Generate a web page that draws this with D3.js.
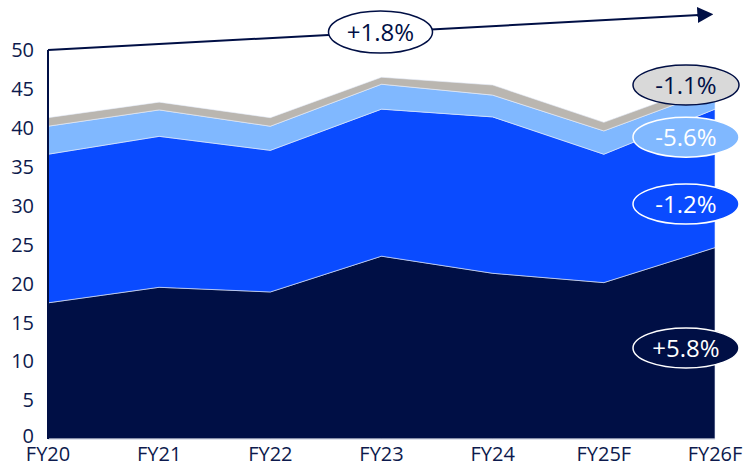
<!DOCTYPE html>
<meta charset="utf-8">
<style>
  body { margin: 0; background: #fff; }
  text { font-family: "Open Sans", sans-serif; }
</style>
<svg width="743" height="467"></svg>
<script src="https://cdn.jsdelivr.net/npm/d3@7"></script>
<script>

var years = ["FY20", "FY21", "FY22", "FY23", "FY24", "FY25F", "FY26F"];
var baseLayer  = [17.5, 19.5, 18.9, 23.5, 21.3, 20.1, 24.6];
var midLayer   = [19.1, 19.4, 18.2, 18.9, 20.1, 16.5, 17.8];
var lightLayer = [3.6, 3.4, 3.1, 3.2, 2.8, 3.0, 2.5];
var greyLayer  = [1.1, 1.0, 1.1, 0.9, 1.3, 1.1, 1.0];
var yTicks = [0, 5, 10, 15, 20, 25, 30, 35, 40, 45, 50];

var keys = ["base", "mid", "light", "grey"];
var colors = { base: "#000f45", mid: "#0a4bff", light: "#80b8ff", grey: "#bab6b0" };

// growth labels: text, value height for placement, fill, stroke, text colour
var labels = [
  { text: "-1.1%", v: 45.5, fill: "#d9d9d9", stroke: "#000f45", color: "#000f45" },
  { text: "-5.6%", v: 38.8, fill: "#80b8ff", stroke: "#fff", color: "#fff" },
  { text: "-1.2%", v: 30.2, fill: "#0a4bff", stroke: "#fff", color: "#fff" },
  { text: "+5.8%", v: 11.7, fill: "#000f45", stroke: "#fff", color: "#fff" }
];
var totalLabel = "+1.8%";

var rows = years.map(function(y, i) {
  return { year: y, base: baseLayer[i], mid: midLayer[i], light: lightLayer[i], grey: greyLayer[i] };
});

var svg = d3.select("svg"),
    margin = {top: 50, right: 28, bottom: 28, left: 48},
    width = +svg.attr("width") - margin.left - margin.right,
    height = +svg.attr("height") - margin.top - margin.bottom,
    g = svg.append("g").attr("transform", "translate(" + margin.left + "," + margin.top + ")");

var x = d3.scalePoint().domain(years).range([0, width]);
var y = d3.scaleLinear().domain([0, 50]).range([height, 0]);

var stack = d3.stack().keys(keys);
var series = stack(rows);

var area = d3.area()
    .x(function(d) { return x(d.data.year); })
    .y0(function(d) { return y(d[0]); })
    .y1(function(d) { return y(d[1]); });

g.selectAll(".layer")
  .data(series)
  .enter().append("path")
    .attr("class", "layer")
    .attr("fill", function(d) { return colors[d.key]; })
    .attr("stroke", "#e8eefc")
    .attr("stroke-width", 0.6)
    .attr("d", area);

// axes
g.append("line")
    .attr("x1", 0).attr("x2", width)
    .attr("y1", height).attr("y2", height)
    .attr("stroke", "#c8ccd8").attr("stroke-width", 1);

g.append("line")
    .attr("x1", 0).attr("x2", 0)
    .attr("y1", height).attr("y2", y(50))
    .attr("stroke", "#000f45").attr("stroke-width", 2);

g.selectAll(".ytick")
  .data(yTicks)
  .enter().append("text")
    .attr("x", -14)
    .attr("y", function(d) { return y(d); })
    .attr("dy", function(d) { return d === 0 ? "0.2em" : "0.36em"; })
    .attr("text-anchor", "end")
    .attr("font-size", 20)
    .attr("fill", "#0d1a4d")
    .text(function(d) { return d; });

g.selectAll(".xtick")
  .data(years)
  .enter().append("text")
    .attr("x", function(d) { return x(d); })
    .attr("y", height + 22)
    .attr("text-anchor", "middle")
    .attr("font-size", 20)
    .attr("fill", "#0d1a4d")
    .text(function(d) { return d; });

// overall trend arrow
var defs = svg.append("defs");
defs.append("marker")
    .attr("id", "head")
    .attr("viewBox", "0 0 10 10")
    .attr("refX", 1).attr("refY", 5)
    .attr("markerWidth", 8).attr("markerHeight", 8)
    .attr("markerUnits", "strokeWidth")
    .attr("orient", "auto")
  .append("path")
    .attr("d", "M0,0L10,5L0,10Z")
    .attr("fill", "#000f45");

var ax0 = 0, ay0 = y(50), ax1 = width - 16, ay1 = y(54.5);
g.append("line")
    .attr("x1", ax0).attr("y1", ay0)
    .attr("x2", ax1).attr("y2", ay1)
    .attr("stroke", "#000f45").attr("stroke-width", 2)
    .attr("marker-end", "url(#head)");

var cx = x("FY23") - 1;
var cy = ay0 + (ay1 - ay0) * cx / ax1;
g.append("ellipse")
    .attr("cx", cx).attr("cy", cy)
    .attr("rx", 52).attr("ry", 21)
    .attr("fill", "#fff").attr("stroke", "#000f45").attr("stroke-width", 1.5);
g.append("text")
    .attr("x", cx).attr("y", cy)
    .attr("dy", "0.36em")
    .attr("text-anchor", "middle")
    .attr("font-size", 24)
    .attr("fill", "#000f45")
    .text(totalLabel);

// layer growth labels
var lab = g.selectAll(".lab")
  .data(labels)
  .enter().append("g")
    .attr("transform", function(d) { return "translate(" + (x("FY26F") - 29) + "," + y(d.v) + ")"; });

lab.append("ellipse")
    .attr("rx", 53).attr("ry", 20)
    .attr("fill", function(d) { return d.fill; })
    .attr("stroke", function(d) { return d.stroke; })
    .attr("stroke-width", 1.5);

lab.append("text")
    .attr("dy", "0.36em")
    .attr("text-anchor", "middle")
    .attr("font-size", 24)
    .attr("fill", function(d) { return d.color; })
    .text(function(d) { return d.text; });

</script>
